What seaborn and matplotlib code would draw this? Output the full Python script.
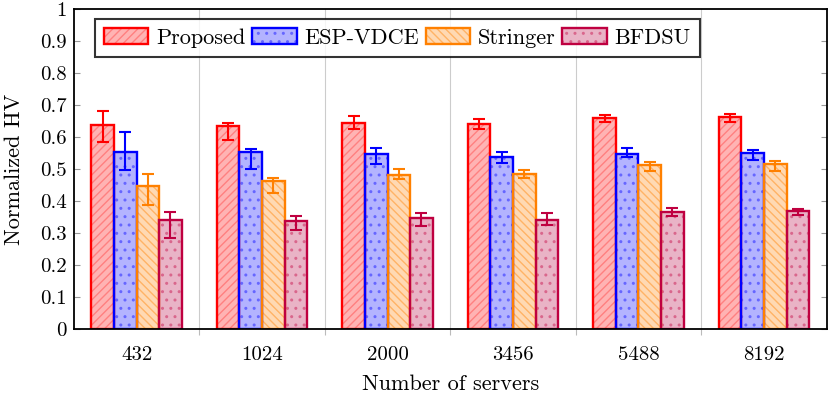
import numpy as np
import pandas as pd
import matplotlib
matplotlib.use("Agg")
import matplotlib.pyplot as plt
from matplotlib.patches import Patch, Rectangle
import seaborn as sns

servers = ["432", "1024", "2000", "3456", "5488", "8192"]
methods = ["Proposed", "ESP-VDCE", "Stringer", "BFDSU"]

# bar heights
proposed = [0.636, 0.635, 0.645, 0.641, 0.659, 0.661]
esp_vdce = [0.552, 0.552, 0.546, 0.536, 0.547, 0.550]
stringer = [0.448, 0.463, 0.481, 0.485, 0.512, 0.515]
bfdsu = [0.340, 0.337, 0.348, 0.342, 0.364, 0.370]

# error bar ends (upper / lower)
proposed_hi = [0.682, 0.645, 0.666, 0.657, 0.670, 0.672]
proposed_lo = [0.583, 0.590, 0.624, 0.624, 0.647, 0.647]
esp_vdce_hi = [0.615, 0.562, 0.565, 0.553, 0.565, 0.560]
esp_vdce_lo = [0.496, 0.500, 0.516, 0.518, 0.537, 0.527]
stringer_hi = [0.483, 0.472, 0.500, 0.498, 0.522, 0.525]
stringer_lo = [0.388, 0.426, 0.469, 0.473, 0.495, 0.495]
bfdsu_hi = [0.367, 0.354, 0.362, 0.363, 0.378, 0.375]
bfdsu_lo = [0.283, 0.309, 0.323, 0.326, 0.353, 0.357]

values = [proposed, esp_vdce, stringer, bfdsu]
highs = [proposed_hi, esp_vdce_hi, stringer_hi, bfdsu_hi]
lows = [proposed_lo, esp_vdce_lo, stringer_lo, bfdsu_lo]

edge_colors = ["#ff0000", "#0000ff", "#ff8000", "#bf0040"]
fill_colors = ["#ffb3b3", "#b3b3ff", "#ffd9b3", "#e9b3c6"]
hatch_colors = ["#ff8080", "#6666ff", "#ffb366", "#d9668c"]
hatches = ["////", "..", "\\\\\\\\", ".."]

rows = []
for m, vals in zip(methods, values):
    for s, v in zip(servers, vals):
        rows.append({"servers": s, "method": m, "hv": v})
df = pd.DataFrame(rows)

plt.rcParams["font.family"] = ["cmr10", "DejaVu Serif"]
plt.rcParams["axes.formatter.use_mathtext"] = True
plt.rcParams["hatch.linewidth"] = 1.0

fig = plt.figure(figsize=(8.3, 3.93), dpi=100)
ax = fig.add_axes([0.089, 0.163, 0.907, 0.814])

sns.barplot(data=df, x="servers", y="hv", hue="method", order=servers,
            hue_order=methods, width=0.72, gap=0, errorbar=None,
            legend=False, ax=ax, zorder=2)

bar_conts = list(ax.containers)
for i, cont in enumerate(bar_conts):
    xs = []
    for p in cont.patches:
        p.set_facecolor(fill_colors[i])
        p.set_edgecolor(hatch_colors[i])
        p.set_hatch(hatches[i])
        p.set_linewidth(0)
        ax.add_patch(Rectangle(p.get_xy(), p.get_width(), p.get_height(),
                               fill=False, edgecolor=edge_colors[i],
                               linewidth=1.7, zorder=3))
        xs.append(p.get_x() + p.get_width() / 2)
    v = np.array(values[i])
    yerr = [v - np.array(lows[i]), np.array(highs[i]) - v]
    ax.errorbar(xs, v, yerr=yerr, fmt="none", ecolor=edge_colors[i],
                elinewidth=1.5, capsize=4, capthick=1.5, zorder=4)

ax.set_xlim(-0.5, 5.5)
ax.set_ylim(0, 1)
ax.set_yticks(np.arange(0, 1.01, 0.1))
ax.set_yticklabels(["0", "0.1", "0.2", "0.3", "0.4", "0.5", "0.6", "0.7",
                    "0.8", "0.9", "1"])
ax.set_xticks(np.arange(0.5, 5.0, 1.0), minor=True)
ax.tick_params(axis="x", which="major", length=0, labelsize=15, pad=12)
ax.tick_params(axis="x", which="minor", length=4, direction="out",
               color="#bbbbbb", width=0.8)
ax.tick_params(axis="y", which="major", direction="in", length=4,
               color="#999999", width=0.8, left=True, right=True,
               labelsize=15, pad=5)
ax.grid(False)
ax.grid(True, axis="x", which="minor", color="#cccccc", linewidth=0.8,
        zorder=0)
ax.set_axisbelow(True)
for s in ax.spines.values():
    s.set_linewidth(1.3)
    s.set_color("black")
    s.set_zorder(5)

ax.set_xlabel("Number of servers", fontsize=16, labelpad=8)
ax.set_ylabel("Normalized HV", fontsize=16, labelpad=12)

handles = []
for i in range(4):
    h1 = Patch(facecolor=fill_colors[i], edgecolor=hatch_colors[i],
               hatch=hatches[i], linewidth=0)
    h2 = Patch(fill=False, edgecolor=edge_colors[i], linewidth=1.7)
    handles.append((h1, h2))
leg = ax.legend(handles, methods, ncol=4, loc="upper left",
                bbox_to_anchor=(0.028, 0.968), fontsize=16, frameon=True,
                fancybox=False, edgecolor="black", handlelength=2.0,
                handleheight=0.7, handletextpad=0.35, columnspacing=0.3,
                borderpad=0.4, borderaxespad=0.0)
leg.get_frame().set_linewidth(1.5)
leg.set_zorder(6)

fig.savefig("out.png", dpi=100)
